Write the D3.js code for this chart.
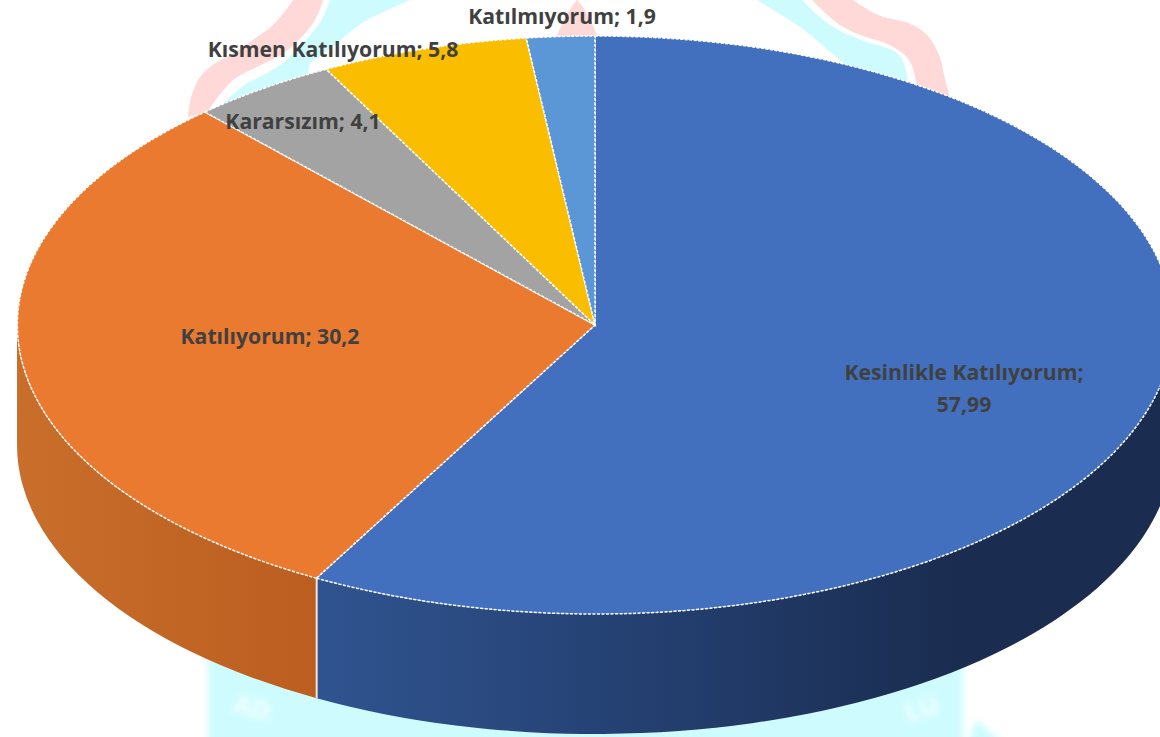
<!DOCTYPE html>
<html lang="tr">
<head>
<meta charset="utf-8">
<script src="https://cdn.jsdelivr.net/npm/d3@7/dist/d3.min.js"></script>
<style>
  html, body { margin: 0; padding: 0; background: #fff; overflow: hidden; }
  svg { display: block; }
  .label { font-family: "Open Sans", sans-serif; font-weight: 700; fill: #404040; }
  .mark { font-family: "Open Sans", sans-serif; font-weight: 700; fill: #fff; fill-opacity: 0.75; }
</style>
</head>
<body>
<svg id="chart" width="1160" height="737"></svg>
<script>
// Veriler
const categories = ["Kesinlikle Katılıyorum", "Katılıyorum", "Kararsızım", "Kısmen Katılıyorum", "Katılmıyorum"];
const values = [57.99, 30.2, 4.1, 5.8, 1.9];
const valueLabels = ["57,99", "30,2", "4,1", "5,8", "1,9"];
const topColors = ["#4270bf", "#ea7a2f", "#a3a3a3", "#fbbd00", "#5b97d6"];

const W = 1160, H = 737;
const cx = 595, cy = 325, rx = 578, ry = 289, depth = 120;

const svg = d3.select("#chart").attr("viewBox", `0 0 ${W} ${H}`);
const defs = svg.append("defs");

// Yan yüz degradeleri
const sideBlue = defs.append("linearGradient").attr("id", "side0")
  .attr("gradientUnits", "userSpaceOnUse").attr("x1", 316).attr("x2", 1173).attr("y1", 0).attr("y2", 0);
sideBlue.append("stop").attr("offset", 0).attr("stop-color", "#305490");
sideBlue.append("stop").attr("offset", 0.45).attr("stop-color", "#223c6b");
sideBlue.append("stop").attr("offset", 0.75).attr("stop-color", "#1a2c4f");
sideBlue.append("stop").attr("offset", 1).attr("stop-color", "#1a2c4f");

const sideOrange = defs.append("linearGradient").attr("id", "side1")
  .attr("gradientUnits", "userSpaceOnUse").attr("x1", 17).attr("x2", 316).attr("y1", 0).attr("y2", 0);
sideOrange.append("stop").attr("offset", 0).attr("stop-color", "#c96e2b");
sideOrange.append("stop").attr("offset", 1).attr("stop-color", "#bb5e20");

defs.append("filter").attr("id", "soft").append("feGaussianBlur").attr("stdDeviation", 3);

// Arka plandaki soluk filigran
const gBack = svg.append("g").attr("class", "watermark");
const pinkPaths = [
  "M188,117 C190,95 195,85 200,77 C208,66 217,62 227,57 C240,50 252,40 263,33 C275,25 285,12 293,0 L323,0 C320,10 316,20 310,27 C300,40 290,50 277,57 C262,65 250,70 237,77 C228,84 218,95 207,113 Z",
  "M853,0 C862,6 872,13 883,17 C895,20 905,21 913,25 C923,30 929,36 933,43 C939,53 942,62 943,70 C945,80 948,90 950,97 L917,87 C915,75 913,65 907,57 C900,50 892,46 883,42 C865,37 850,32 837,23 C828,16 820,8 812,0 Z",
  "M557,36 C562,22 570,8 577,0 C585,8 592,22 597,36 Z"
];
pinkPaths.forEach(d => gBack.append("path").attr("d", d).attr("fill", "#ffd9d7"));
const cyanPaths = [
  "M220,107 C228,98 238,90 247,83 C262,76 272,71 283,63 C298,50 310,36 320,23 C324,15 328,8 330,0 L410,0 C395,7 380,13 367,20 C355,27 347,35 337,43 C325,52 318,58 310,63 L300,120 Z",
  "M757,0 L802,0 C810,8 818,16 827,23 C840,32 855,38 870,43 C880,46 890,48 897,53 C904,60 907,70 908,85 L860,90 C855,75 850,68 843,63 C828,50 815,38 800,27 C785,17 770,8 757,0 Z"
];
cyanPaths.forEach(d => gBack.append("path").attr("d", d).attr("fill", "#cefcfe"));
const gBand = gBack.append("g").attr("filter", "url(#soft)");
gBand.append("path").attr("d", "M208,655 L963,655 L963,745 L208,745 Z").attr("fill", "#cefcfe");
gBand.append("path").attr("d", "M968,745 L976,720 L1005,745 Z").attr("fill", "#cefcfe");
gBand.append("text").attr("class", "mark").attr("font-size", 26)
  .attr("transform", "translate(232,712) rotate(14)").text("AD");
gBand.append("text").attr("class", "mark").attr("font-size", 26)
  .attr("transform", "translate(908,722) rotate(-16)").text("LU");

// Pasta açıları: saat 12'den saat yönünde
const pie = d3.pie().sort(null).value(d => d.value);
const slices = pie(categories.map((name, i) => ({ name, value: values[i], label: valueLabels[i], color: topColors[i] })));

const arcUnit = d3.arc().innerRadius(0).outerRadius(1);
const px = a => cx + rx * Math.sin(a);
const py = a => cy - ry * Math.cos(a);

// Yan yüzler: yalnızca önde görünen açı aralığı çizilir
const gSides = svg.append("g").attr("class", "sides");
slices.forEach((s, i) => {
  const a0 = Math.max(s.startAngle, Math.PI / 2);
  const a1 = Math.min(s.endAngle, 3 * Math.PI / 2);
  if (a1 <= a0) return;
  const d = `M${px(a0)},${py(a0)}`
    + `A${rx},${ry} 0 0 1 ${px(a1)},${py(a1)}`
    + `L${px(a1)},${py(a1) + depth}`
    + `A${rx},${ry} 0 0 0 ${px(a0)},${py(a0) + depth}Z`;
  gSides.append("path").attr("d", d).attr("fill", `url(#side${i})`);
});

// Mavi ile turuncu arasındaki dikey ayrım çizgisi
const seam = slices[0].endAngle;
gSides.append("line")
  .attr("x1", px(seam)).attr("x2", px(seam))
  .attr("y1", py(seam)).attr("y2", py(seam) + depth)
  .attr("stroke", "#f4e4dc").attr("stroke-width", 2);

// Üst yüz dilimleri
const gTop = svg.append("g").attr("transform", `translate(${cx},${cy}) scale(${rx},${ry})`);
gTop.selectAll("path").data(slices).join("path")
  .attr("d", arcUnit)
  .attr("fill", d => d.data.color)
  .attr("stroke", "#fff")
  .attr("stroke-width", 1.5)
  .attr("vector-effect", "non-scaling-stroke")
  .attr("stroke-dasharray", "3 1.5");

// Etiketler
const labelPos = [[964, 373], [270, 337], [303, 122], [333, 50], [562, 17]];
const gLabels = svg.append("g").attr("class", "labels");
slices.forEach((s, i) => {
  const t = gLabels.append("text").attr("class", "label")
    .attr("text-anchor", "middle")
    .attr("font-size", 21.2)
    .attr("x", labelPos[i][0]).attr("y", labelPos[i][1] + 7);
  if (i === 0) {
    t.append("tspan").attr("x", labelPos[i][0]).text(`${s.data.name};`);
    t.append("tspan").attr("x", labelPos[i][0]).attr("dy", 32).text(s.data.label);
  } else {
    t.text(`${s.data.name}; ${s.data.label}`);
  }
});
</script>
</body>
</html>
